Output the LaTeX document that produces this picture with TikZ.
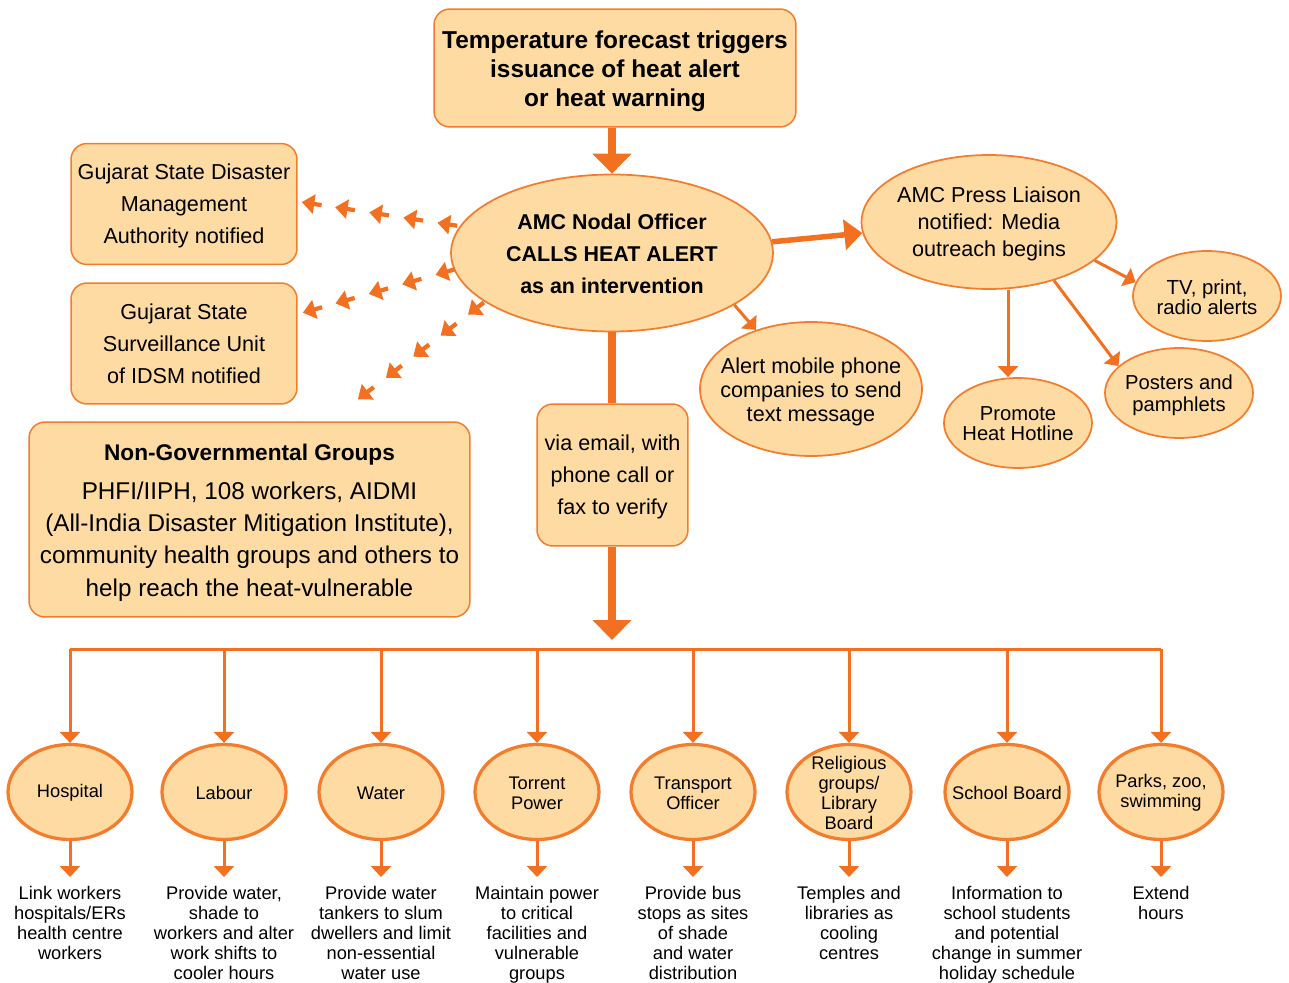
\documentclass[tikz,border=0pt]{standalone}
\usepackage{fontspec}
\setmainfont{Liberation Sans}
\usetikzlibrary{arrows.meta,shapes.geometric,decorations.markings,calc}
\definecolor{org}{HTML}{F37021}
\definecolor{edgec}{HTML}{F47C2C}
\definecolor{peach}{HTML}{FEDBA3}
\tikzset{
  rbox/.style={draw=edgec, line width=0.03cm, fill=peach, rounded corners=0.32cm, align=center, inner sep=0pt},
  ell/.style={ellipse, draw=edgec, line width=0.035cm, fill=peach, inner sep=0pt},
  bell/.style={ell, line width=0.065cm, minimum width=2.48cm, minimum height=1.9cm},
  txt/.style={align=center, inner sep=0pt, text=black},
  fmid/.style={font=\fontsize{12.3}{18.2}\selectfont},
  fbot/.style={font=\fontsize{10.4}{11.4}\selectfont},
  bigarr/.style={draw=org, line width=0.15cm, -{Triangle[length=0.4cm,width=0.76cm]}},
  medarr/.style={draw=org, line width=0.11cm, -{Triangle[length=0.36cm,width=0.6cm]}},
  thinarr/.style={draw=org, line width=0.06cm, -{Triangle[length=0.22cm,width=0.4cm]}},
  busline/.style={draw=org, line width=0.06cm},
  chainarrow/.style={draw=org, line width=0.085cm, -{Triangle[length=0.25cm,width=0.38cm]}},
  chain/.style n args={5}{decoration={markings,
     mark=at position #1 with {\draw[chainarrow] (-0.4cm,0) -- (0,0);},
     mark=at position #2 with {\draw[chainarrow] (-0.4cm,0) -- (0,0);},
     mark=at position #3 with {\draw[chainarrow] (-0.4cm,0) -- (0,0);},
     mark=at position #4 with {\draw[chainarrow] (-0.4cm,0) -- (0,0);},
     mark=at position #5 with {\draw[chainarrow] (-0.4cm,0) -- (0,0);}}, decorate}
}
\begin{document}
\begin{tikzpicture}[x=0.02cm,y=-0.02cm]
\useasboundingbox (0,0) rectangle (1289,983);

% top box
\node[rbox, minimum width=7.24cm, minimum height=2.36cm] (top) at (615,68) {};
\node[txt, font=\bfseries\fontsize{13.9}{16.5}\selectfont] (topT) at (615,71)
  {Temperature forecast triggers\\issuance of heat alert\\or heat warning};

% nodal officer
\node[ell, minimum width=6.44cm, minimum height=3.14cm] (nodal) at (612,253) {};
\node[txt, font=\bfseries\fontsize{12.2}{18.2}\selectfont] (nodalT) at (612,254)
  {AMC Nodal Officer\\CALLS HEAT ALERT\\as an intervention};

% press liaison and children
\node[ell, minimum width=5.1cm, minimum height=2.68cm] (press) at (989,222) {};
\node[txt, font=\fontsize{12.3}{15.4}\selectfont] (pressT) at (989,224)
  {AMC Press Liaison\\notified: Media\\outreach begins};

\node[ell, minimum width=2.96cm, minimum height=1.8cm] (tv) at (1207,296) {};
\node[txt, font=\fontsize{11.6}{11.4}\selectfont] (tvT) at (1207,297) {TV, print,\\radio alerts};

\node[ell, minimum width=2.96cm, minimum height=1.8cm] (posters) at (1179,393) {};
\node[txt, font=\fontsize{11.5}{12.5}\selectfont] (postersT) at (1179,395) {Posters and\\pamphlets};

\node[ell, minimum width=2.96cm, minimum height=1.8cm] (promote) at (1018,423) {};
\node[txt, font=\fontsize{11.5}{11.4}\selectfont] (promoteT) at (1018,424) {Promote\\Heat Hotline};

\node[ell, minimum width=4.44cm, minimum height=2.68cm] (alert) at (811,389) {};
\node[txt, font=\fontsize{12.3}{13.7}\selectfont] (alertT) at (811,392)
  {Alert mobile phone\\companies to send\\text message};

% left boxes
\node[rbox, minimum width=4.52cm, minimum height=2.42cm] (gsdma) at (184,204) {};
\node[txt, fmid] (gsdmaT) at (184,206) {Gujarat State Disaster\\Management\\Authority notified};
\node[rbox, minimum width=4.52cm, minimum height=2.42cm] (gssu) at (184,343.5) {};
\node[txt, fmid] (gssuT) at (184,343.5) {Gujarat State\\Surveillance Unit\\of IDSM notified};
\node[rbox, minimum width=8.82cm, minimum height=3.9cm] (ngo) at (249.5,519.5) {};
\node[txt, font=\fontsize{13.8}{18.4}\selectfont] (ngoT) at (249.5,522.5)
  {{\bfseries\fontsize{12.9}{18.4}\selectfont Non-Governmental Groups}\\[3.6pt]
   PHFI/IIPH, 108 workers, AIDMI\\(All-India Disaster Mitigation Institute),\\
   community health groups and others to\\help reach the heat-vulnerable};

% via box
\node[rbox, minimum width=3.02cm, minimum height=2.84cm] (via) at (612.5,475) {};
\node[txt, fmid] (viaT) at (612.5,477) {via email, with\\phone call or\\fax to verify};

% main connectors
\draw[bigarr] (top.south -| nodal.north) -- (nodal.north);
\draw[draw=org, line width=0.15cm] (nodal.south) -- (via.north -| nodal.south);
\coordinate (bustip) at (612,640);
\draw[bigarr] (via.south -| bustip) -- (bustip);
\draw[medarr] (nodal.4) -- (press.185);
\draw[thinarr] (nodal.-23) -- (alert.133);
\draw[thinarr] (press.-20) -- (tv.169);
\draw[thinarr] (press.-42) -- (posters.156);
\coordinate (hotx) at (1008,0);
\draw[thinarr] (press.south -| hotx) -- (promote.north -| hotx);

% dotted arrow chains
\coordinate (gsdmaend) at (301,202);
\path[chain={0.14}{0.355}{0.57}{0.785}{0.995}] (nodal.170) -- (gsdmaend);
\coordinate (gssuend) at (302,313);
\path[chain={0.12}{0.34}{0.56}{0.78}{0.995}] (nodal.186) -- (gssuend);
\coordinate (ngoarrow) at (357,400);
\path[chain={0.13}{0.345}{0.56}{0.775}{0.995}] (nodal.201) -- (ngoarrow);

% bottom row
\coordinate (bus) at (0,649);
\foreach \i/\x/\lab/\out in {
  1/70/{Hospital}/{Link workers\\hospitals/ERs\\health centre\\workers},
  2/224/{Labour}/{Provide water,\\shade to\\workers and alter\\work shifts to\\cooler hours},
  3/381/{Water}/{Provide water\\tankers to slum\\dwellers and limit\\non-essential\\water use},
  4/537/{Torrent\\Power}/{Maintain power\\to critical\\facilities and\\vulnerable\\groups},
  5/693/{Transport\\Officer}/{Provide bus\\stops as sites\\of shade\\and water\\distribution},
  6/849/{Religious\\groups/\\Library\\Board}/{Temples and\\libraries as\\cooling\\centres},
  7/1007/{School Board}/{Information to\\school students\\and potential\\change in summer\\holiday schedule},
  8/1161/{Parks, zoo,\\swimming}/{Extend\\hours}} {
  \node[bell] (b\i) at (\x,792) {};
  \node[txt, fbot] (bt\i) at (\x,793) {\lab};
  \node[txt, fbot, anchor=north] (out\i) at (\x,886) {\out};
  \draw[thinarr] (b\i.north |- bus) -- (b\i.north);
  \draw[thinarr, shorten >=0.18cm] (b\i.south) -- (out\i.north);
}
\draw[busline] (b1.north |- bus) -- (b8.north |- bus);
\end{tikzpicture}
\end{document}
